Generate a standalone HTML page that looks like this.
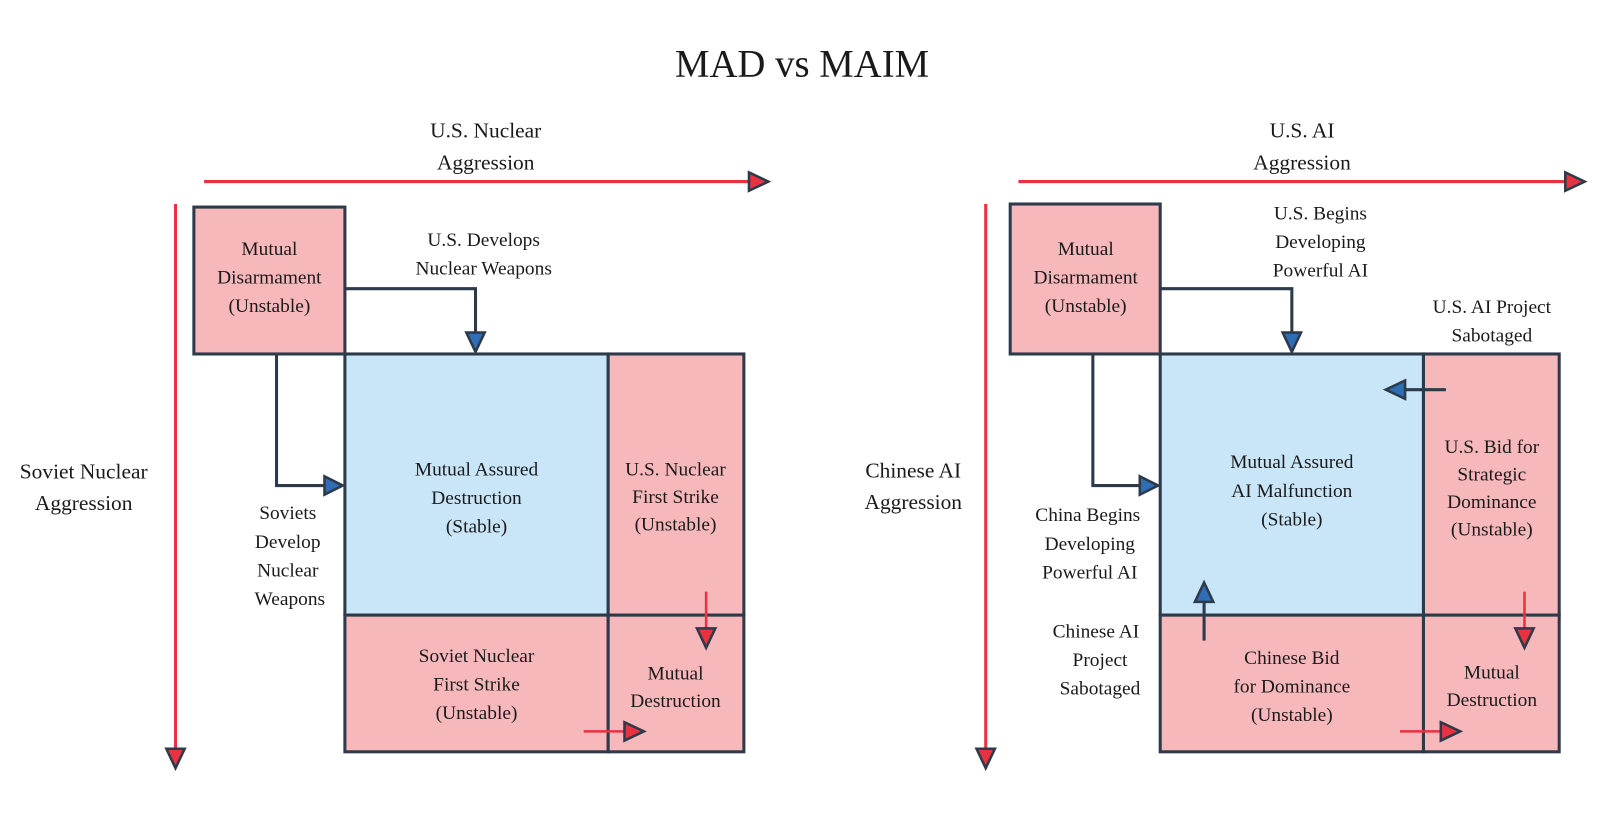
<!DOCTYPE html>
<html><head><meta charset="utf-8"><style>
html,body{margin:0;padding:0;background:#fff;}
svg{display:block;}
text{font-family:"Liberation Serif",serif;fill:#1a1a1a;}
</style></head><body>
<svg width="1600" height="813" viewBox="0 0 1568 797" preserveAspectRatio="none" xmlns="http://www.w3.org/2000/svg">
<defs>
<marker id="rh" viewBox="0 0 10 10" refX="9" refY="5" markerWidth="5.5" markerHeight="5.5" orient="auto" markerUnits="userSpaceOnUse"></marker>
</defs>
<text x="786" y="75" font-size="38" text-anchor="middle">MAD vs MAIM</text>

<!-- LEFT -->
<g font-size="21" text-anchor="middle">
<text x="476" y="135">U.S. Nuclear</text>
<text x="476" y="166">Aggression</text>
<text x="82" y="469">Soviet Nuclear</text>
<text x="82" y="500">Aggression</text>
</g>
<line x1="200" y1="178" x2="736" y2="178" stroke="#e8323f" stroke-width="3"/>
<polygon points="734,169 753,178 734,187" fill="#e8323f" stroke="#2d3a4a" stroke-width="2.5"/>
<line x1="172" y1="200" x2="172" y2="736" stroke="#e8323f" stroke-width="3"/>
<polygon points="163,734 172,753 181,734" fill="#e8323f" stroke="#2d3a4a" stroke-width="2.5"/>

<g stroke="#2d3a4a" stroke-width="3">
<rect x="190" y="203" width="148" height="144" fill="#f7b8bb"/>
<rect x="338" y="347" width="258" height="256" fill="#c8e6f8"/>
<rect x="596" y="347" width="133" height="256" fill="#f7b8bb"/>
<rect x="338" y="603" width="258" height="134" fill="#f7b8bb"/>
<rect x="596" y="603" width="133" height="134" fill="#f7b8bb"/>
<polyline points="338,283 466,283 466,326" fill="none"/>
<polyline points="271,347 271,476 318,476" fill="none"/>
</g>
<polygon points="457,326 475,326 466,345" fill="#2f6db5" stroke="#2d3a4a" stroke-width="2.5"/>
<polygon points="318,467 318,485 336,476" fill="#2f6db5" stroke="#2d3a4a" stroke-width="2.5"/>
<line x1="692" y1="580" x2="692" y2="616" stroke="#e8323f" stroke-width="2.5"/>
<polygon points="683,616 701,616 692,635" fill="#e8323f" stroke="#2d3a4a" stroke-width="2.5"/>
<line x1="572" y1="717" x2="612" y2="717" stroke="#e8323f" stroke-width="2.5"/>
<polygon points="612,708 612,726 631,717" fill="#e8323f" stroke="#2d3a4a" stroke-width="2.5"/>

<g font-size="19" text-anchor="middle">
<text x="264" y="250">Mutual</text>
<text x="264" y="278">Disarmament</text>
<text x="264" y="306">(Unstable)</text>
<text x="474" y="241">U.S. Develops</text>
<text x="474" y="269">Nuclear Weapons</text>
<text x="282" y="509">Soviets</text>
<text x="282" y="537">Develop</text>
<text x="282" y="565">Nuclear</text>
<text x="284" y="593">Weapons</text>
<text x="467" y="466">Mutual Assured</text>
<text x="467" y="494">Destruction</text>
<text x="467" y="522">(Stable)</text>
<text x="662" y="466">U.S. Nuclear</text>
<text x="662" y="493">First Strike</text>
<text x="662" y="520">(Unstable)</text>
<text x="467" y="649">Soviet Nuclear</text>
<text x="467" y="677">First Strike</text>
<text x="467" y="705">(Unstable)</text>
<text x="662" y="666">Mutual</text>
<text x="662" y="693">Destruction</text>
</g>

<!-- RIGHT -->
<g font-size="21" text-anchor="middle">
<text x="1276" y="135">U.S. AI</text>
<text x="1276" y="166">Aggression</text>
<text x="895" y="468">Chinese AI</text>
<text x="895" y="499">Aggression</text>
</g>
<line x1="998" y1="178" x2="1536" y2="178" stroke="#e8323f" stroke-width="3"/>
<polygon points="1534,169 1553,178 1534,187" fill="#e8323f" stroke="#2d3a4a" stroke-width="2.5"/>
<line x1="966" y1="200" x2="966" y2="736" stroke="#e8323f" stroke-width="3"/>
<polygon points="957,734 966,753 975,734" fill="#e8323f" stroke="#2d3a4a" stroke-width="2.5"/>

<g stroke="#2d3a4a" stroke-width="3">
<rect x="990" y="200" width="147" height="147" fill="#f7b8bb"/>
<rect x="1137" y="347" width="258" height="256" fill="#c8e6f8"/>
<rect x="1395" y="347" width="133" height="256" fill="#f7b8bb"/>
<rect x="1137" y="603" width="258" height="134" fill="#f7b8bb"/>
<rect x="1395" y="603" width="133" height="134" fill="#f7b8bb"/>
<polyline points="1137,283 1266,283 1266,326" fill="none"/>
<polyline points="1071,347 1071,476 1117,476" fill="none"/>
<line x1="1417" y1="382" x2="1376" y2="382"/>
<line x1="1180" y1="628" x2="1180" y2="590"/>
</g>
<polygon points="1257,326 1275,326 1266,345" fill="#2f6db5" stroke="#2d3a4a" stroke-width="2.5"/>
<polygon points="1117,467 1117,485 1135,476" fill="#2f6db5" stroke="#2d3a4a" stroke-width="2.5"/>
<polygon points="1377,373 1377,391 1358,382" fill="#2f6db5" stroke="#2d3a4a" stroke-width="2.5"/>
<polygon points="1171,590 1189,590 1180,571" fill="#2f6db5" stroke="#2d3a4a" stroke-width="2.5"/>
<line x1="1494" y1="580" x2="1494" y2="616" stroke="#e8323f" stroke-width="2.5"/>
<polygon points="1485,616 1503,616 1494,635" fill="#e8323f" stroke="#2d3a4a" stroke-width="2.5"/>
<line x1="1372" y1="717" x2="1412" y2="717" stroke="#e8323f" stroke-width="2.5"/>
<polygon points="1412,708 1412,726 1431,717" fill="#e8323f" stroke="#2d3a4a" stroke-width="2.5"/>

<g font-size="19" text-anchor="middle">
<text x="1064" y="250">Mutual</text>
<text x="1064" y="278">Disarmament</text>
<text x="1064" y="306">(Unstable)</text>
<text x="1294" y="215">U.S. Begins</text>
<text x="1294" y="243">Developing</text>
<text x="1294" y="271">Powerful AI</text>
<text x="1462" y="307">U.S. AI Project</text>
<text x="1462" y="335">Sabotaged</text>
<text x="1066" y="511">China Begins</text>
<text x="1068" y="539">Developing</text>
<text x="1068" y="567">Powerful AI</text>
<text x="1074" y="625">Chinese AI</text>
<text x="1078" y="653">Project</text>
<text x="1078" y="681">Sabotaged</text>
<text x="1266" y="459">Mutual Assured</text>
<text x="1266" y="487">AI Malfunction</text>
<text x="1266" y="515">(Stable)</text>
<text x="1462" y="444">U.S. Bid for</text>
<text x="1462" y="471">Strategic</text>
<text x="1462" y="498">Dominance</text>
<text x="1462" y="525">(Unstable)</text>
<text x="1266" y="651">Chinese Bid</text>
<text x="1266" y="679">for Dominance</text>
<text x="1266" y="707">(Unstable)</text>
<text x="1462" y="665">Mutual</text>
<text x="1462" y="692">Destruction</text>
</g>
</svg>
</body></html>
